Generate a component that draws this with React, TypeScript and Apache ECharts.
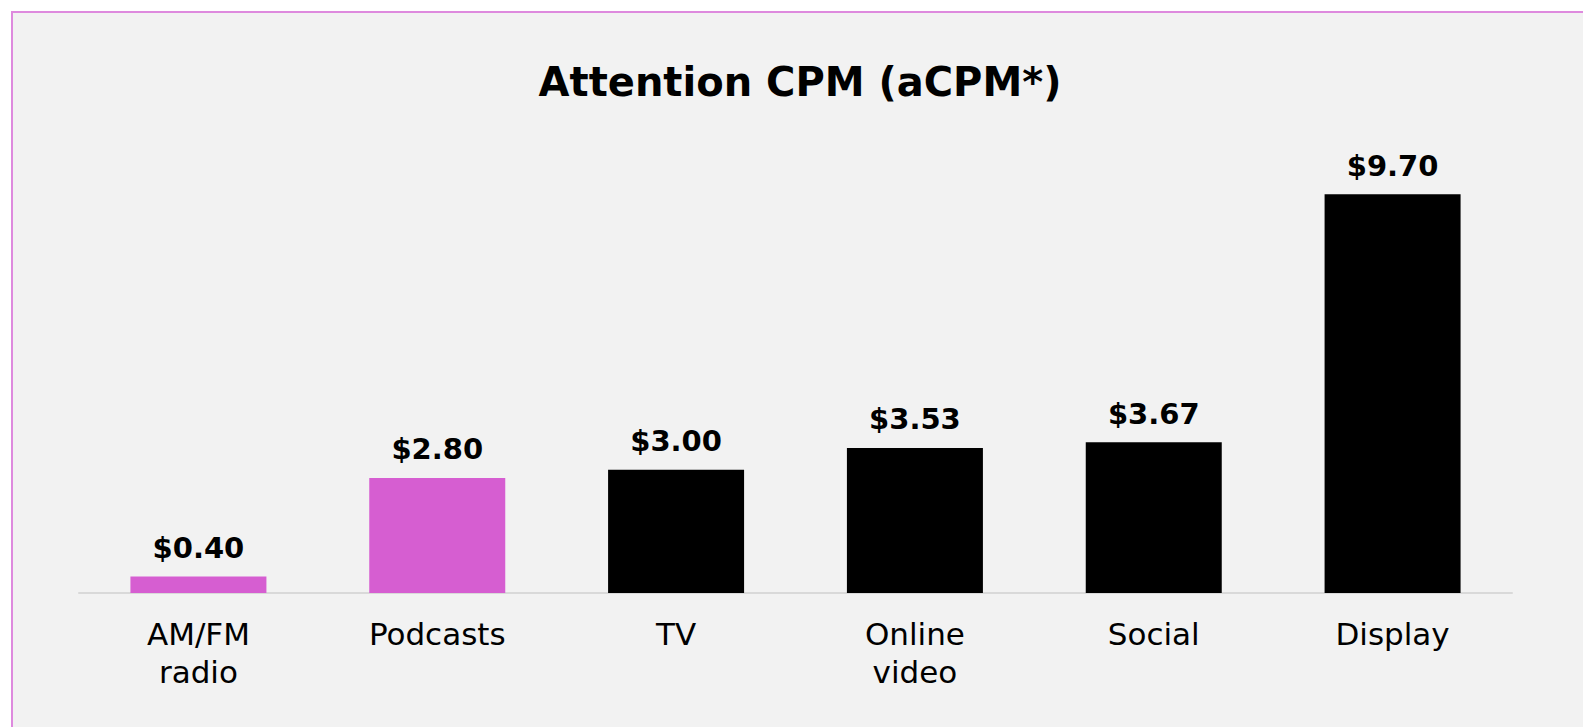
import React, { useEffect, useRef } from "react";
import * as echarts from "echarts";

const categories = ["AM/FM\nradio", "Podcasts", "TV", "Online\nvideo", "Social", "Display"];
const acpmValues = [0.4, 2.8, 3.0, 3.53, 3.67, 9.7];
const audioCategories = ["AM/FM\nradio", "Podcasts"];
const chartTitle = "Attention CPM (aCPM*)";

const FONT = "'DejaVu Sans', sans-serif";

export default function App() {
  const ref = useRef<HTMLDivElement>(null);
  useEffect(() => {
    if (!ref.current) return;
    const chart = echarts.init(ref.current, undefined, { renderer: "svg" });
    chart.setOption({
      animation: false,
      backgroundColor: "#f2f2f2",
      title: {
        text: chartTitle,
        left: 782,
        textAlign: "center",
        top: 44,
        textStyle: { fontFamily: FONT, fontWeight: "bold", fontSize: 40, color: "#000" },
      },
      grid: { left: 66, top: 169, width: 1433, height: 411, containLabel: false },
      xAxis: {
        type: "category",
        data: categories,
        axisLine: { lineStyle: { color: "#d9d9d9", width: 2 } },
        axisTick: { show: false },
        axisLabel: {
          fontFamily: FONT,
          fontSize: 31,
          color: "#000",
          lineHeight: 38,
          margin: 22,
          interval: 0,
        },
      },
      yAxis: {
        type: "value",
        min: 0,
        max: 10,
        show: false,
      },
      series: [
        {
          type: "bar",
          data: acpmValues,
          barWidth: 136,
          itemStyle: {
            color: (p: any) => (audioCategories.includes(categories[p.dataIndex]) ? "#d65ed1" : "#000000"),
          },
          label: {
            show: true,
            position: "top",
            distance: 14,
            fontFamily: FONT,
            fontWeight: "bold",
            fontSize: 29,
            color: "#000",
            formatter: (p: any) => "$" + Number(p.value).toFixed(2),
          },
        },
      ],
    });
    return () => chart.dispose();
  }, []);
  return (
    <div
      style={{
        position: "fixed",
        left: 11,
        top: 11,
        right: 0,
        bottom: 0,
        overflow: "hidden",
        borderTop: "2px solid #de8ade",
        borderLeft: "2px solid #de8ade",
        background: "#f2f2f2",
      }}
    >
      <div ref={ref} style={{ width: 1570, height: 714 }} />
    </div>
  );
}
